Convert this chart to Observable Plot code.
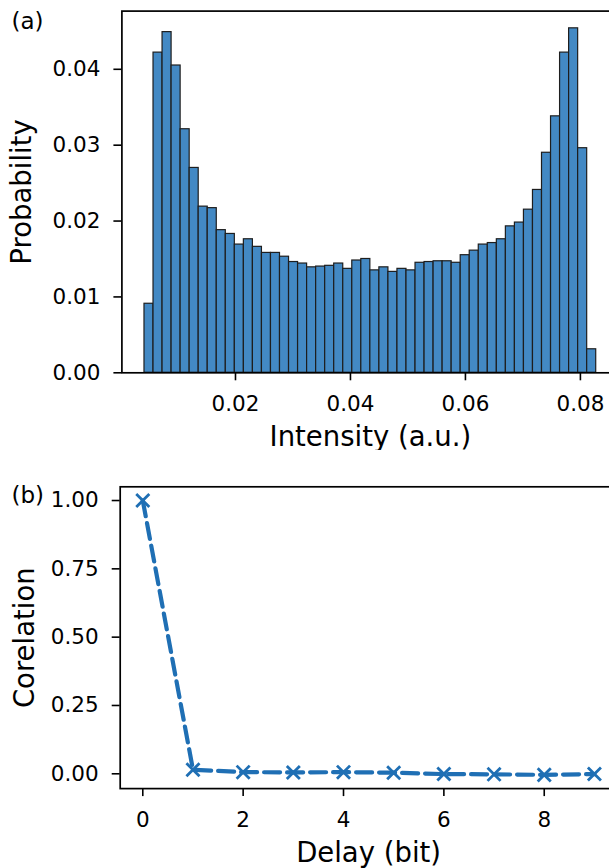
<!DOCTYPE html>
<html><head><meta charset="utf-8">
<script src="https://cdn.jsdelivr.net/npm/d3@7"></script>
<script src="https://cdn.jsdelivr.net/npm/@observablehq/plot@0.6"></script>
<style>
html,body{margin:0;padding:0;background:#fff;overflow:hidden;width:609px;height:868px;}
#chart svg{display:block;}
</style></head><body><div id="chart"></div>
<script>
// ---- Panel (a): histogram of intensity ----
const binStart = 0.00417;
const binEnd = 0.08275;
const probability = [
  0.0091, 0.0422, 0.0449, 0.0405, 0.0321, 0.0270, 0.0219, 0.0217, 0.0188, 0.0183,
  0.0169, 0.0176, 0.0166, 0.0158, 0.0158, 0.0153, 0.0146, 0.0144, 0.0139, 0.0140,
  0.0141, 0.0144, 0.0137, 0.0148, 0.0150, 0.0135, 0.0139, 0.0133, 0.0137, 0.0135,
  0.0145, 0.0146, 0.0147, 0.0147, 0.0145, 0.0155, 0.0161, 0.0169, 0.0171, 0.0176,
  0.0193, 0.0198, 0.0215, 0.0241, 0.0290, 0.0338, 0.0422, 0.0454, 0.0296, 0.0031
];
const intensityTicks = [0.02, 0.04, 0.06, 0.08];
const probabilityTicks = [0.00, 0.01, 0.02, 0.03, 0.04];

// ---- Panel (b): correlation vs delay ----
const delay = [0, 1, 2, 3, 4, 5, 6, 7, 8, 9];
const corelation = [1.0, 0.015, 0.006, 0.005, 0.006, 0.004, -0.001, -0.002, -0.004, -0.001];
const delayTicks = [0, 2, 4, 6, 8];
const corelationTicks = [0.00, 0.25, 0.50, 0.75, 1.00];

const f2 = d3.format(".2f");
const baseStyle = {fontFamily: "DejaVu Sans", fontSize: "21.5px", color: "black", background: "white"};

// histogram bins
const binW = (binEnd - binStart) / probability.length;
const bins = probability.map((p, i) => ({x1: binStart + i * binW, x2: binStart + (i + 1) * binW, p}));
const xPad = 0.05 * (binEnd - binStart);
const yMaxA = d3.max(probability) * 1.05;

const plotA = Plot.plot({
  width: 609, height: 450,
  marginLeft: 121.4, marginRight: -9.3, marginTop: 10.6, marginBottom: 77.7,
  x: {domain: [binStart - xPad, binEnd + xPad]},
  y: {domain: [0, yMaxA]},
  style: baseStyle,
  marks: [
    Plot.rectY(bins, {x1: "x1", x2: "x2", y: "p", fill: "#4389c4", stroke: "#1e1e1e", strokeWidth: 1.2}),
    Plot.frame({stroke: "black", strokeWidth: 1.7}),
    Plot.axisX(intensityTicks, {tickFormat: f2, tickSize: 8, tickPadding: 15, strokeWidth: 1.6, label: null}),
    Plot.axisY(probabilityTicks, {tickFormat: f2, tickSize: 8, tickPadding: 13.5, strokeWidth: 1.6, label: null}),
    Plot.text(["Intensity (a.u.)"], {text: d => d, frameAnchor: "bottom", textAnchor: "middle", lineAnchor: "bottom", dy: 72.7, fontSize: 27.5}),
    Plot.text(["Probability"], {text: d => d, frameAnchor: "left", textAnchor: "middle", rotate: -90, lineAnchor: "bottom", dx: -90.5, fontSize: 27.5}),
    Plot.text(["(a)"], {text: d => d, frameAnchor: "top-left", textAnchor: "start", lineAnchor: "bottom", dx: 11 - 121.4, dy: 28.5 - 10.6, fontSize: 23})
  ]
});

// correlation panel
const pts = delay.map((d, i) => ({delay: d, c: corelation[i]}));
const dx = 0.05 * (d3.max(delay) - d3.min(delay));
const cRange = d3.max(corelation) - d3.min(corelation);
const plotB = Plot.plot({
  width: 609, height: 418,
  marginLeft: 119.7, marginRight: -7.5, marginTop: 36.3, marginBottom: 79.9,
  x: {domain: [d3.min(delay) - dx, d3.max(delay) + dx]},
  y: {domain: [d3.min(corelation) - 0.05 * cRange, d3.max(corelation) + 0.05 * cRange]},
  style: baseStyle,
  marks: [
    Plot.line(pts, {x: "delay", y: "c", stroke: "#1f6fb4", strokeWidth: 4.2, strokeDasharray: "16,7"}),
    Plot.dot(pts, {x: "delay", y: "c", symbol: "times", r: 6, stroke: "#1f6fb4", strokeWidth: 2.8}),
    Plot.frame({stroke: "black", strokeWidth: 1.7}),
    Plot.axisX(delayTicks, {tickFormat: d3.format("d"), tickSize: 8, tickPadding: 15, strokeWidth: 1.6, label: null}),
    Plot.axisY(corelationTicks, {tickFormat: f2, tickSize: 8, tickPadding: 13.5, strokeWidth: 1.6, label: null}),
    Plot.text(["Delay (bit)"], {text: d => d, frameAnchor: "bottom", textAnchor: "middle", lineAnchor: "bottom", dy: 73.4, fontSize: 27.5}),
    Plot.text(["Corelation"], {text: d => d, frameAnchor: "left", textAnchor: "middle", rotate: -90, lineAnchor: "bottom", dx: -86.7, fontSize: 27.5}),
    Plot.text(["(b)"], {text: d => d, frameAnchor: "top-left", textAnchor: "start", lineAnchor: "bottom", dx: 11 - 119.7, dy: 502 - 450 - 36.3, fontSize: 23})
  ]
});

document.getElementById("chart").append(plotA, plotB);
</script>
</body></html>
